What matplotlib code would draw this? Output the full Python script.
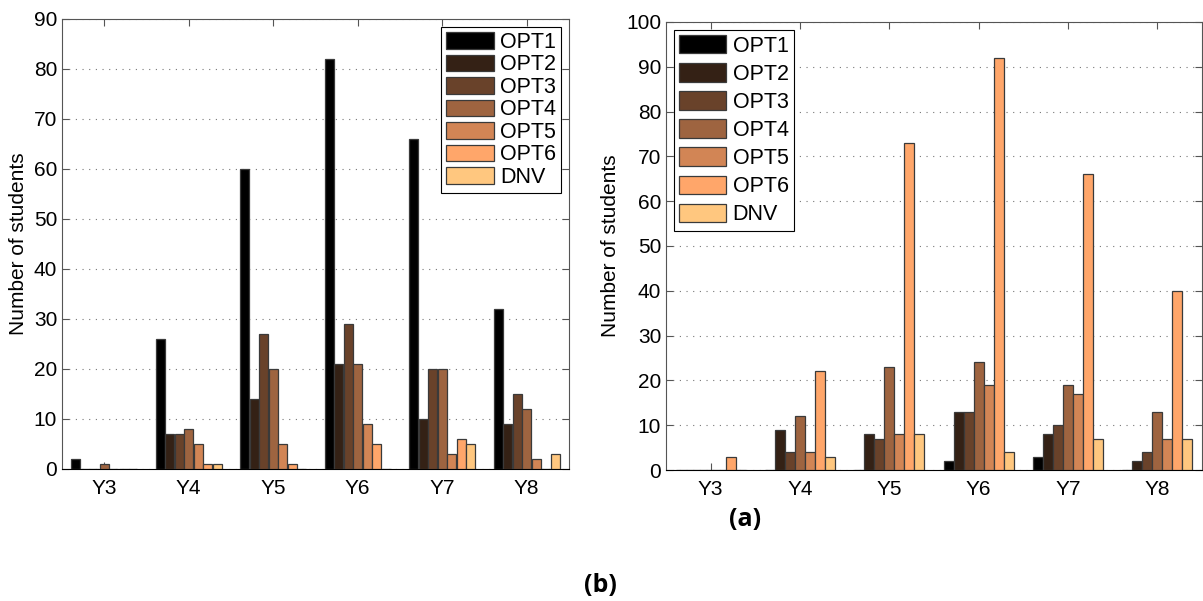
import numpy as np
import matplotlib
matplotlib.use("Agg")
import matplotlib.pyplot as plt

years = ['Y3', 'Y4', 'Y5', 'Y6', 'Y7', 'Y8']
options = ['OPT1', 'OPT2', 'OPT3', 'OPT4', 'OPT5', 'OPT6', 'DNV']

# left panel, rows = year, columns = option
left_counts = [
    [2, 0, 0, 1, 0, 0, 0],
    [26, 7, 7, 8, 5, 1, 1],
    [60, 14, 27, 20, 5, 1, 0],
    [82, 21, 29, 21, 9, 5, 0],
    [66, 10, 20, 20, 3, 6, 5],
    [32, 9, 15, 12, 2, 0, 3],
]

# right panel
right_counts = [
    [0, 0, 0, 0, 0, 3, 0],
    [0, 9, 4, 12, 4, 22, 3],
    [0, 8, 7, 23, 8, 73, 8],
    [2, 13, 13, 24, 19, 92, 4],
    [3, 8, 10, 19, 17, 66, 7],
    [0, 2, 4, 13, 7, 40, 7],
]

plt.rcParams['font.family'] = ['Liberation Sans', 'DejaVu Sans']
colors = plt.cm.copper(np.linspace(0, 1, len(options)))


def grouped_bars(ax, counts, ymax, legend_loc, spacing, hheight):
    data = np.array(counts)
    x = np.arange(1, len(years) + 1)
    step = 0.112
    for j, name in enumerate(options):
        ax.bar(x + (j - 3) * step, data[:, j], width=step * 0.98,
               color=colors[j], edgecolor='#3a3a3a', linewidth=0.9,
               label=name, zorder=3)
    ax.set_xlim(0.5, len(years) + 0.5)
    ax.set_ylim(0, ymax)
    ax.set_xticks(x)
    ax.set_xticklabels(years)
    ax.set_yticks(np.arange(0, ymax + 1, 10))
    ax.yaxis.grid(True, linestyle=(0, (1, 5)), color='#777777', linewidth=0.8)
    ax.tick_params(direction='in', top=True, right=True, labelsize=15,
                   length=5, color='#555555')
    ax.tick_params(axis='x', pad=7)
    for s in ax.spines.values():
        s.set_color('#555555')
    ax.spines['bottom'].set_color('black')
    ax.set_ylabel('Number of students', fontsize=15)
    leg = ax.legend(loc=legend_loc, fontsize=15.5, fancybox=False,
                    edgecolor='black', framealpha=1, handlelength=2.2,
                    handleheight=hheight, labelspacing=spacing,
                    handletextpad=0.3, borderaxespad=0.35, borderpad=0.25)
    leg.get_frame().set_linewidth(0.8)


fig = plt.figure(figsize=(12.03, 6.01), dpi=100)
ax1 = fig.add_axes([62 / 1203, 1 - 469 / 601, 507 / 1203, 450 / 601])
ax2 = fig.add_axes([666 / 1203, 1 - 470 / 601, 536 / 1203, 448 / 601])

grouped_bars(ax1, left_counts, 90, 'upper right', 0.07, 0.8)
grouped_bars(ax2, right_counts, 100, 'upper left', 0.3, 0.95)

fig.text(745 / 1203, 1 - 520 / 601, '(a)', fontsize=18, fontweight='bold',
         ha='center', va='center', family='Open Sans')
fig.text(600 / 1203, 1 - 585 / 601, '(b)', fontsize=18, fontweight='bold',
         ha='center', va='center', family='Open Sans')

fig.savefig('out.png', dpi=100)
